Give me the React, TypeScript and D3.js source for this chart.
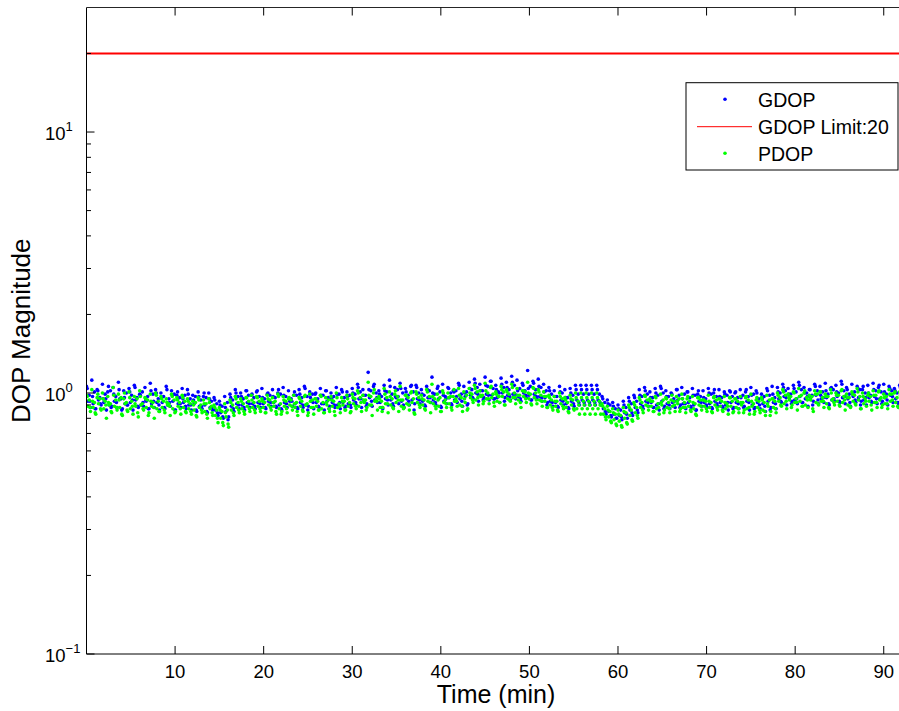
import React from "react";
import * as d3 from "d3";

// ---------------- data ----------------
const xTicks = [10, 20, 30, 40, 50, 60, 70, 80, 90];
const yMajor = [0.1, 1, 10];
const yExponents = ["\u22121", "0", "1"];
const gdopLimit = 20;
const epochStep = 0.6; // minutes between epochs of one track
const trackOffsets = [0, 0.3, 0.15, 0.45, 0.08, 0.38]; // minutes, start of each interleaved track

const gdopA = [1.06,1.12,1.03,1.08,1.01,1.05,1.10,1.02,1.04,1.07,0.99,1.05,1.09,1.03,
  1.00,1.06,1.02,0.98,1.04, 1.03,0.98,1.01,0.97,1.00, 0.96,0.93,0.97, 0.99,1.03,1.00,1.02,0.98,
  1.01,1.04,0.99,1.03,1.00,1.05,1.02,0.98,1.03,1.06,1.01,0.99,1.04,1.02,1.00,1.05,1.03,1.01,
  1.04,1.08,1.03,1.20,1.06,1.02,1.07,1.12,1.05,1.09,1.04,1.06,
  1.07,1.03,1.06,1.15,1.04,1.08,1.05,1.02,1.09,1.06,
  1.10,1.13,1.08,1.15,1.11,1.07,1.14,1.10,1.16,1.12,1.09,1.22,1.11,1.13,1.08,
  1.05,1.02,1.06,1.03,1.04, 1.07,1.07,1.07,1.07,1.07, 0.97,0.94,0.92,0.90,0.93,0.96,0.98,
  1.03,1.05,1.01,1.04,1.06,1.02,1.00,1.03,1.05,1.01,1.04,0.99,1.02,1.04,1.00,1.03,1.01,1.02,
  1.00,1.03,1.01,1.05,1.02,0.99,1.04,1.06,
  1.05,1.08,1.04,1.07,1.10,1.05,1.03,1.08,1.06,1.09,1.04,1.07,1.11,1.05,1.08,1.06,1.03,1.07,1.09,1.05,1.08,1.06,1.04,1.07];
const gdopB = [0.98,1.01,0.96,0.99,1.02,0.97,0.95,1.00,0.98,0.96,1.01,0.97,0.99,0.95,
  0.97,0.95,0.99,0.96,0.98, 0.95,0.97,0.94,0.96,0.93, 0.91,0.89,0.92, 0.94,0.97,0.95,0.98,0.96,
  0.97,0.95,0.98,0.96,0.99,0.97,0.95,0.98,0.96,0.97,0.99,0.95,0.98,0.96,0.97,0.99,0.96,0.98,
  0.99,1.01,0.98,1.02,1.00,0.97,1.01,0.99,1.03,1.00,0.98,1.01,
  1.00,0.98,1.02,0.99,1.01,0.97,1.00,1.02,0.99,1.01,
  1.03,1.05,1.02,1.06,1.04,1.01,1.05,1.03,1.07,1.04,1.02,1.06,1.03,1.05,1.02,
  0.99,0.97,1.00,0.96,0.98, 0.99,0.99,0.99,0.99,0.99, 0.92,0.90,0.87,0.86,0.88,0.91,0.93,
  0.97,0.99,0.96,0.98,1.00,0.97,0.95,0.98,0.99,0.96,0.98,0.97,0.95,0.99,0.97,0.96,0.98,0.97,
  0.96,0.98,0.97,0.99,0.95,0.97,0.98,0.96,
  1.00,1.02,0.99,1.01,1.03,1.00,0.98,1.02,1.01,0.99,1.03,1.00,1.02,0.99,1.01,1.03,1.00,0.98,1.02,1.01,0.99,1.02,1.00,1.01];
const gdopC = [0.93,0.91,0.94,0.92,0.90,0.93,0.95,0.91,0.92,0.94,0.90,0.93,0.91,0.92,
  0.92,0.90,0.93,0.91,0.92, 0.90,0.91,0.89,0.90,0.88, 0.86,0.84,0.85, 0.89,0.91,0.90,0.92,0.91,
  0.92,0.91,0.93,0.92,0.90,0.92,0.93,0.91,0.92,0.90,0.93,0.92,0.91,0.93,0.92,0.90,0.92,0.91,
  0.94,0.95,0.93,0.96,0.94,0.92,0.95,0.94,0.96,0.93,0.95,0.94,
  0.95,0.93,0.96,0.94,0.95,0.93,0.96,0.94,0.95,0.97,
  0.98,1.00,0.97,0.99,0.98,0.96,1.00,0.98,0.99,0.97,1.00,0.98,0.99,0.97,0.96,
  0.93,0.92,0.94,0.91,0.93, 0.94,0.94,0.94,0.94,0.94, 0.87,0.85,0.83,0.82,0.84,0.86,0.88,
  0.91,0.93,0.92,0.90,0.93,0.91,0.92,0.94,0.91,0.92,0.90,0.93,0.92,0.91,0.93,0.92,0.90,0.92,
  0.92,0.91,0.93,0.90,0.92,0.91,0.93,0.92,
  0.95,0.97,0.96,0.94,0.97,0.95,0.96,0.98,0.95,0.96,0.94,0.97,0.96,0.95,0.97,0.96,0.94,0.96,0.97,0.95,0.96,0.98,0.95,0.96];
const gdopD = [0.88,0.87,0.90,0.86,0.89,0.88,0.87,0.90,0.86,0.88,0.89,0.87,0.88,0.86,
  0.87,0.89,0.86,0.88,0.87, 0.86,0.85,0.87,0.84,0.86, 0.82,0.80,0.81, 0.85,0.87,0.86,0.88,0.87,
  0.88,0.87,0.89,0.88,0.86,0.88,0.89,0.87,0.88,0.89,0.87,0.88,0.86,0.89,0.88,0.87,0.89,0.88,
  0.90,0.88,0.91,0.89,0.92,0.87,0.90,0.89,0.91,0.88,0.90,0.91,
  0.91,0.89,0.92,0.90,0.88,0.91,0.90,0.92,0.89,0.91,
  0.95,0.93,0.96,0.94,0.95,0.92,0.96,0.94,0.95,0.93,0.96,0.94,0.95,0.93,0.92,
  0.89,0.88,0.90,0.87,0.89, 0.90,0.90,0.90,0.90,0.90, 0.83,0.81,0.80,0.79,0.80,0.82,0.84,
  0.87,0.89,0.88,0.86,0.89,0.87,0.88,0.90,0.87,0.88,0.86,0.89,0.88,0.87,0.89,0.88,0.86,0.88,
  0.87,0.89,0.86,0.88,0.87,0.85,0.88,0.87,
  0.92,0.90,0.93,0.91,0.92,0.89,0.93,0.91,0.92,0.90,0.93,0.92,0.91,0.89,0.92,0.93,0.90,0.92,0.91,0.93,0.90,0.92,0.91,0.92];
const gdopE = [1.04,0.97,1.02,0.95,1.06,0.99,1.03,0.96,1.01,1.05,0.98,0.94,1.02,1.00,
  0.96,1.03,0.98,1.01,0.95, 0.99,0.94,0.97,1.00,0.95, 0.94,0.90,0.88, 0.96,1.00,0.97,1.02,0.99,
  1.02,0.96,1.00,0.97,1.03,0.98,0.95,1.01,0.99,1.04,0.96,1.00,0.98,1.02,0.95,0.99,1.01,0.97,
  1.00,1.05,0.98,1.03,1.08,0.99,1.02,1.06,0.97,1.04,1.01,1.07,
  1.05,0.99,1.03,1.00,1.06,0.98,1.04,1.01,1.07,1.00,
  1.04,1.09,1.02,1.07,1.11,1.03,1.08,1.05,1.10,1.02,1.07,1.04,1.09,1.06,1.01,
  1.02,0.97,1.01,0.96,1.00, 1.03,1.03,1.03,1.03,1.03, 0.95,0.91,0.89,0.87,0.90,0.93,0.96,
  0.98,1.02,0.96,1.00,1.04,0.97,0.99,1.03,0.95,1.01,0.98,1.02,0.96,1.00,1.03,0.97,0.99,1.01,
  1.01,0.96,1.03,0.98,1.00,0.95,1.02,0.99,
  1.01,1.05,0.99,1.04,1.07,1.00,1.03,1.06,0.98,1.02,1.05,1.01,1.08,1.03,0.99,1.04,1.06,1.00,1.03,1.07,1.01,1.04,1.02,1.05];
const gdopF = [0.93,0.87,0.91,0.95,0.88,0.92,0.86,0.90,0.94,0.89,0.92,0.87,0.93,0.90,
  0.88,0.92,0.86,0.91,0.89, 0.90,0.86,0.89,0.85,0.88, 0.84,0.81,0.79, 0.87,0.90,0.88,0.91,0.89,
  0.91,0.88,0.92,0.89,0.87,0.91,0.93,0.88,0.90,0.86,0.92,0.89,0.91,0.87,0.90,0.92,0.88,0.90,
  0.92,0.95,0.89,0.93,0.96,0.88,0.94,0.91,0.97,0.90,0.93,0.86,
  0.94,0.90,0.96,0.92,0.89,0.95,0.91,0.97,0.93,0.90,
  0.96,0.99,0.94,0.98,0.95,1.00,0.93,0.97,0.99,0.95,0.98,0.94,0.97,0.96,0.90,
  0.92,0.89,0.93,0.88,0.91, 0.92,0.92,0.92,0.92,0.92, 0.85,0.82,0.80,0.81,0.83,0.84,0.86,
  0.89,0.92,0.88,0.91,0.87,0.90,0.93,0.88,0.91,0.89,0.86,0.92,0.90,0.88,0.91,0.89,0.92,0.87,
  0.91,0.88,0.92,0.87,0.90,0.89,0.86,0.91,
  0.93,0.96,0.91,0.95,0.92,0.97,0.90,0.94,0.96,0.91,0.95,0.93,0.97,0.92,0.94,0.90,0.96,0.93,0.95,0.91,0.94,0.97,0.92,0.95];

const pdopA = [0.98,1.03,0.96,1.00,0.97,1.05,0.99,0.95,1.01,0.97,1.02,0.96,0.99,1.00,
  0.97,0.95,0.99,0.96,0.98, 0.95,0.93,0.96,0.94,0.95, 0.90,0.88,0.91, 0.94,0.97,0.95,0.96,0.98,
  0.97,0.95,0.98,0.96,0.99,0.97,0.95,0.98,0.96,0.97,0.99,0.95,0.98,0.96,0.97,1.00,0.96,0.98,
  0.99,1.02,0.98,1.10,1.00,0.97,1.04,1.01,0.99,1.06,0.98,1.00,
  1.01,0.98,1.03,1.08,0.99,1.02,1.00,0.97,1.04,1.01,
  1.04,1.07,1.02,1.09,1.05,1.01,1.06,1.03,1.08,1.04,1.02,1.10,1.05,1.03,1.01,
  0.98,0.97,1.00,0.96,0.98, 1.00,1.00,1.00,1.00,1.00, 0.91,0.89,0.87,0.86,0.88,0.90,0.92,
  0.96,0.98,0.95,0.97,0.99,0.96,0.94,0.97,0.99,0.95,0.97,0.96,0.94,0.98,0.96,0.95,0.97,0.96,
  0.95,0.97,0.96,0.99,0.94,0.96,0.98,0.95,
  1.00,1.03,0.99,1.01,1.04,1.00,0.98,1.02,1.01,0.99,1.03,1.00,1.02,0.99,1.01,1.04,1.00,0.98,1.02,1.01,0.99,1.03,1.00,1.01];
const pdopB = [0.94,0.92,0.95,0.93,0.91,0.94,0.96,0.92,0.93,0.95,0.91,0.94,0.92,0.93,
  0.93,0.91,0.94,0.92,0.93, 0.91,0.92,0.90,0.91,0.89, 0.86,0.85,0.86, 0.90,0.92,0.91,0.93,0.92,
  0.93,0.92,0.94,0.93,0.91,0.93,0.94,0.92,0.93,0.91,0.94,0.93,0.92,0.94,0.93,0.91,0.93,0.92,
  0.95,0.96,0.94,0.97,0.95,0.93,0.96,0.95,0.97,0.94,0.96,0.95,
  0.96,0.94,0.97,0.95,0.96,0.94,0.97,0.95,0.96,0.98,
  0.99,1.01,0.98,1.00,0.99,0.97,1.01,0.99,1.00,0.98,1.01,0.99,1.00,0.98,0.97,
  0.94,0.93,0.95,0.92,0.94, 0.93,0.93,0.93,0.93,0.93, 0.87,0.85,0.83,0.82,0.84,0.86,0.88,
  0.92,0.94,0.93,0.91,0.94,0.92,0.93,0.95,0.92,0.93,0.91,0.94,0.93,0.92,0.94,0.93,0.91,0.93,
  0.93,0.92,0.94,0.91,0.93,0.92,0.94,0.93,
  0.96,0.98,0.97,0.95,0.98,0.96,0.97,0.99,0.96,0.97,0.95,0.98,0.97,0.96,0.98,0.97,0.95,0.97,0.98,0.96,0.97,0.99,0.96,0.97];
const pdopC = [0.89,0.88,0.91,0.87,0.90,0.89,0.88,0.91,0.87,0.89,0.90,0.88,0.89,0.87,
  0.88,0.90,0.87,0.89,0.88, 0.87,0.86,0.88,0.85,0.87, 0.82,0.80,0.81, 0.86,0.88,0.87,0.89,0.88,
  0.89,0.88,0.90,0.89,0.87,0.89,0.90,0.88,0.89,0.90,0.88,0.89,0.87,0.90,0.89,0.88,0.90,0.89,
  0.91,0.89,0.92,0.90,0.93,0.88,0.91,0.90,0.92,0.89,0.91,0.92,
  0.92,0.90,0.93,0.91,0.89,0.92,0.91,0.93,0.90,0.92,
  0.96,0.94,0.97,0.95,0.96,0.93,0.97,0.95,0.96,0.94,0.97,0.95,0.96,0.94,0.93,
  0.90,0.89,0.91,0.88,0.90, 0.87,0.87,0.87,0.87,0.87, 0.83,0.81,0.79,0.78,0.80,0.82,0.84,
  0.88,0.90,0.89,0.87,0.90,0.88,0.89,0.91,0.88,0.89,0.87,0.90,0.89,0.88,0.90,0.89,0.87,0.89,
  0.88,0.90,0.87,0.89,0.88,0.86,0.89,0.88,
  0.93,0.91,0.94,0.92,0.93,0.90,0.94,0.92,0.93,0.91,0.94,0.93,0.92,0.90,0.93,0.94,0.91,0.93,0.92,0.94,0.91,0.93,0.92,0.93];
const pdopD = [0.85,0.83,0.86,0.80,0.84,0.86,0.82,0.85,0.83,0.81,0.86,0.84,0.80,0.85,
  0.84,0.82,0.85,0.83,0.84, 0.83,0.81,0.84,0.80,0.82, 0.77,0.75,0.74, 0.82,0.84,0.83,0.85,0.84,
  0.85,0.84,0.86,0.83,0.85,0.84,0.86,0.82,0.85,0.84,0.83,0.86,0.84,0.85,0.82,0.84,0.86,0.85,
  0.87,0.85,0.88,0.82,0.86,0.88,0.84,0.87,0.85,0.88,0.86,0.83,
  0.88,0.86,0.84,0.87,0.85,0.88,0.86,0.89,0.85,0.87,
  0.92,0.90,0.93,0.91,0.89,0.92,0.90,0.93,0.91,0.88,0.92,0.90,0.91,0.89,0.88,
  0.86,0.85,0.87,0.84,0.86, 0.83,0.83,0.83,0.83,0.83, 0.79,0.77,0.75,0.74,0.76,0.78,0.80,
  0.84,0.86,0.85,0.83,0.86,0.84,0.85,0.87,0.84,0.85,0.82,0.86,0.85,0.84,0.86,0.85,0.83,0.85,
  0.84,0.86,0.83,0.85,0.84,0.82,0.85,0.84,
  0.89,0.87,0.90,0.86,0.89,0.88,0.85,0.90,0.88,0.87,0.90,0.89,0.86,0.88,0.90,0.87,0.89,0.86,0.88,0.90,0.87,0.89,0.88,0.89];
const pdopE = [0.97,0.93,0.99,0.95,0.92,0.98,0.94,1.00,0.96,0.91,0.97,0.95,0.93,0.98,
  0.95,0.92,0.97,0.94,0.96, 0.93,0.90,0.94,0.91,0.92, 0.88,0.86,0.84, 0.92,0.95,0.93,0.96,0.94,
  0.96,0.93,0.95,0.92,0.97,0.94,0.96,0.91,0.95,0.98,0.93,0.95,0.97,0.92,0.94,0.96,0.93,0.95,
  0.96,1.00,0.94,0.98,1.03,0.95,0.99,0.97,1.02,0.94,0.98,1.01,
  0.99,0.95,1.01,0.97,0.94,1.00,0.96,1.03,0.98,0.95,
  1.00,1.04,0.98,1.02,1.06,0.99,1.03,1.01,1.05,0.98,1.02,1.00,1.04,1.01,0.97,
  0.96,0.93,0.97,0.94,0.95, 0.96,0.96,0.96,0.96,0.96, 0.89,0.86,0.84,0.83,0.85,0.88,0.90,
  0.94,0.97,0.93,0.96,0.92,0.95,0.98,0.93,0.95,0.97,0.92,0.96,0.94,0.93,0.97,0.95,0.92,0.96,
  0.95,0.92,0.97,0.93,0.96,0.94,0.91,0.95,
  0.98,1.01,0.96,1.00,0.97,1.02,0.95,0.99,1.01,0.97,1.00,0.98,1.03,0.96,0.99,1.01,0.97,1.00,0.98,1.02,0.96,0.99,1.01,0.98];
const pdopF = [0.88,0.84,0.87,0.90,0.85,0.88,0.83,0.86,0.89,0.84,0.87,0.82,0.88,0.85,
  0.86,0.89,0.84,0.87,0.85, 0.85,0.82,0.86,0.83,0.84, 0.80,0.77,0.76, 0.84,0.86,0.85,0.87,0.86,
  0.87,0.84,0.88,0.85,0.83,0.87,0.89,0.85,0.86,0.82,0.88,0.86,0.84,0.87,0.85,0.89,0.86,0.84,
  0.89,0.92,0.86,0.90,0.93,0.85,0.91,0.88,0.94,0.87,0.90,0.84,
  0.90,0.87,0.92,0.89,0.85,0.91,0.88,0.93,0.89,0.86,
  0.94,0.96,0.91,0.95,0.92,0.97,0.90,0.94,0.96,0.92,0.95,0.91,0.94,0.93,0.88,
  0.88,0.86,0.89,0.85,0.87, 0.90,0.90,0.90,0.90,0.90, 0.81,0.78,0.76,0.75,0.77,0.79,0.82,
  0.86,0.89,0.85,0.88,0.84,0.87,0.90,0.85,0.88,0.86,0.83,0.89,0.87,0.85,0.88,0.86,0.89,0.84,
  0.87,0.84,0.88,0.83,0.86,0.85,0.82,0.87,
  0.90,0.93,0.88,0.92,0.89,0.94,0.87,0.91,0.93,0.88,0.92,0.90,0.94,0.89,0.91,0.87,0.93,0.90,0.92,0.88,0.91,0.94,0.89,0.92];

const gdopTracks = [gdopA, gdopB, gdopC, gdopD, gdopE, gdopF];
const pdopTracks = [pdopA, pdopB, pdopC, pdopD, pdopE, pdopF];

// ---------------- layout ----------------
const W = 899;
const H = 711;
const left = 86.5;
const top = 7.5;
const bottom = 654;
const xMax = 92.4;
const right = 905;

const FONT = "'Liberation Sans', Arial, Helvetica, sans-serif";

function toPoints(tracks: number[][]) {
  return tracks.flatMap((arr, k) =>
    arr.map((v, i) => ({ t: i * epochStep + trackOffsets[k], v }))
  );
}

export default function App() {
  const x = d3.scaleLinear().domain([0, xMax]).range([left, right]);
  const y = d3.scaleLog().domain([0.1, 30]).range([bottom, top]);

  const gPts = toPoints(gdopTracks);
  const pPts = toPoints(pdopTracks);

  const minor: number[] = [];
  [0.1, 1, 10].forEach((d) => {
    for (let m = 2; m <= 9; m++) {
      const v = m * d;
      if (v < 30) minor.push(v);
    }
  });

  const r = 1.8;

  return (
    <svg
      width={W}
      height={H}
      style={{ position: "absolute", left: 0, top: 0, background: "#fff" }}
      fontFamily={FONT}
    >
      <defs>
        <clipPath id="plot">
          <rect x={left} y={top} width={right - left} height={bottom - top} />
        </clipPath>
      </defs>
      <rect x={0} y={0} width={W} height={H} fill="#fff" />

      <g clipPath="url(#plot)">
        {gPts.map((p, i) => (
          <circle key={"g" + i} cx={x(p.t)} cy={y(p.v)} r={r} fill="#0000ff" />
        ))}
        <line
          x1={x(0)}
          x2={x(xMax)}
          y1={y(gdopLimit)}
          y2={y(gdopLimit)}
          stroke="#ff0000"
          strokeWidth={2}
        />
        {pPts.map((p, i) => (
          <circle key={"p" + i} cx={x(p.t)} cy={y(p.v)} r={r} fill="#00ff00" />
        ))}
      </g>

      {/* axes box */}
      <line x1={left} x2={left} y1={top} y2={bottom} stroke="#000" strokeWidth={1} />
      <line x1={left} x2={right} y1={bottom} y2={bottom} stroke="#000" strokeWidth={1} />
      <line x1={left} x2={right} y1={top} y2={top} stroke="#262626" strokeWidth={1} />

      {/* x ticks */}
      {xTicks.map((t) => (
        <g key={"xt" + t}>
          <line x1={x(t)} x2={x(t)} y1={bottom} y2={bottom - 8} stroke="#000" />
          <line x1={x(t)} x2={x(t)} y1={top} y2={top + 8} stroke="#000" />
          <text x={x(t)} y={678} textAnchor="middle" fontSize={18.5} fill="#000">
            {t}
          </text>
        </g>
      ))}

      {/* y ticks */}
      {yMajor.map((v, i) => (
        <g key={"ym" + v}>
          <line x1={left} x2={left + 8} y1={y(v)} y2={y(v)} stroke="#000" />
          <text x={45} y={y(v) + 7.7} fontSize={18.5} fill="#000">
            10
            <tspan dy={-9} fontSize={13}>
              {yExponents[i]}
            </tspan>
          </text>
        </g>
      ))}
      {minor.map((v) => (
        <line key={"yn" + v} x1={left} x2={left + 4.5} y1={y(v)} y2={y(v)} stroke="#000" />
      ))}

      {/* axis labels */}
      <text x={496} y={703} textAnchor="middle" fontSize={25} fill="#000">
        Time (min)
      </text>
      <text
        transform={`translate(30, ${(top + bottom) / 2}) rotate(-90)`}
        textAnchor="middle"
        fontSize={26}
        fill="#000"
      >
        DOP Magnitude
      </text>

      {/* legend */}
      <g>
        <rect x={686} y={82.7} width={212} height={87.3} fill="#fff" stroke="#000" strokeWidth={1} />
        <circle cx={725} cy={99.3} r={r} fill="#0000ff" />
        <text x={758} y={106.7} fontSize={19.5} fill="#000">GDOP</text>
        <line x1={697} x2={752} y1={126.7} y2={126.7} stroke="#ff0000" strokeWidth={1} />
        <text x={758} y={134} fontSize={19.5} fill="#000">GDOP Limit:20</text>
        <circle cx={725} cy={153.3} r={r} fill="#00ff00" />
        <text x={758} y={160.7} fontSize={19.5} fill="#000">PDOP</text>
      </g>
    </svg>
  );
}
